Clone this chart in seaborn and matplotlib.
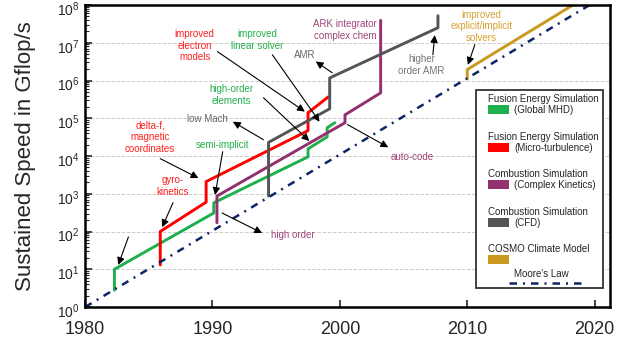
import numpy as np
import pandas as pd
import matplotlib
matplotlib.use("Agg")
import matplotlib.pyplot as plt
import matplotlib.transforms as mtransforms
from matplotlib.patches import Rectangle
from matplotlib.ticker import LogLocator, FixedLocator
import seaborn as sns

# ------------------------------------------------------------
# data
# ------------------------------------------------------------
mhd_years = [1982.3, 1982.3, 1990.1, 1990.1, 1997.5, 1997.5, 1999.0, 1999.0, 1999.6]
mhd_speed = [2.8, 10, 310, 575, 9500, 15500, 32000, 56000, 76000]

turb_years = [1985.9, 1985.9, 1989.5, 1989.5, 1997.5, 1997.5, 1999.1]
turb_speed = [13, 100, 600, 2100, 47000, 140000, 370000]

kin_years = [1990.35, 1990.35, 2000.4, 2000.4, 2003.2, 2003.2]
kin_speed = [170, 870, 76000, 123000, 470000, 3.9e7]

cfd_years = [1994.4, 1994.4, 1999.2, 1999.2, 2007.7, 2007.7]
cfd_speed = [870, 23000, 178000, 1.17e6, 2.5e7, 5.2e7]

cosmo_years = [2010.0, 2010.0, 2018.3]
cosmo_speed = [1.1e6, 1.95e6, 1e8]

moore_years = [1980, 2020]
moore_speed = [1, 1.2e8]

series_names = ["Global MHD", "Micro-turbulence", "Complex Kinetics", "CFD", "COSMO"]
series_colors = ["#1db04c", "#ff0000", "#93306e", "#555555", "#c99a1e"]
moore_color = "#0d2467"

x_ticks = [1980, 1990, 2000, 2010, 2020]
y_ticks = [10.0 ** k for k in range(9)]
y_tick_labels = [f"$10^{{{k}}}$" for k in range(9)]

# (group title, sub label) for the hand-made legend
legend_rows = [
    ("Fusion Energy Simulation", "(Global MHD)"),
    ("Fusion Energy Simulation", "(Micro-turbulence)"),
    ("Combustion Simulation", "(Complex Kinetics)"),
    ("Combustion Simulation", "(CFD)"),
    ("COSMO Climate Model", ""),
]

# annotations: text, text position, arrow tail, arrow head, colour
notes = [
    ("improved\nelectron\nmodels", (1988.6, 8.3e6), (1990.4, 5.8e6), (1997.25, 1.5e5), "#ff2020"),
    ("improved\nlinear solver", (1993.5, 1.2e7), (1994.7, 4.8e6), (1998.4, 8.1e4), "#22b04c"),
    ("AMR", (1997.25, 4.8e6), (1999.4, 1.6e6), (1998.1, 3.2e6), "#666666"),
    ("ARK integrator\ncomplex chem", (2000.4, 2.2e7), None, None, "#a0457a"),
    ("higher\norder AMR", (2006.4, 2.6e6), (2007.3, 4.8e6), (2007.45, 1.6e7), "#777777"),
    ("improved\nexplicit/implicit\nsolvers", (2011.1, 2.7e7), (2010.6, 8.9e6), (2010.05, 2.6e6), "#d4a030"),
    ("high-order\nelements", (1991.5, 4.2e5), (1994.0, 3.5e5), (1997.6, 2.5e4), "#22b04c"),
    ("low Mach", (1989.6, 9.8e4), (1994.0, 2.7e4), (1991.6, 8.1e4), "#666666"),
    ("delta-f,\nmagnetic\ncoordinates", (1985.1, 3.2e4), (1985.9, 8.5e3), (1988.9, 2.6e3), "#ff2020"),
    ("semi-implicit", (1990.8, 2.0e4), (1990.8, 1.3e4), (1990.2, 9.3e2), "#22b04c"),
    ("gyro-\nkinetics", (1986.9, 1.6e3), (1986.9, 5.8e2), (1986.05, 1.3e2), "#ff2020"),
    ("", None, (1983.4, 72), (1982.6, 13), "black"),
    ("high order", (1996.3, 81), (1990.75, 310), (1993.9, 91), "#a0457a"),
    ("auto-code", (2005.7, 9.5e3), (2000.6, 6.8e4), (2003.8, 1.7e4), "#a0457a"),
]

# ------------------------------------------------------------
# plot
# ------------------------------------------------------------
sns.set_style("ticks")
plt.rcParams['font.family'] = ['Liberation Sans', 'DejaVu Sans']
plt.rcParams['mathtext.default'] = 'regular'

fig = plt.figure(figsize=(6.4, 3.57), dpi=100)
ax = fig.add_axes([0.133, 0.140, 0.820, 0.846])

all_years = [mhd_years, turb_years, kin_years, cfd_years, cosmo_years]
all_speed = [mhd_speed, turb_speed, kin_speed, cfd_speed, cosmo_speed]
for name, yrs, spd, col in zip(series_names, all_years, all_speed, series_colors):
    df = pd.DataFrame({"year": yrs, "speed": spd})
    sns.lineplot(data=df, x="year", y="speed", sort=False, estimator=None,
                 color=col, lw=2.1, ax=ax)

moore_df = pd.DataFrame({"year": moore_years, "speed": moore_speed})
sns.lineplot(data=moore_df, x="year", y="speed", sort=False, estimator=None,
             color=moore_color, lw=1.8, ax=ax)
ax.lines[-1].set_linestyle((0, (3.0, 2.4, 0.8, 2.4)))

ax.set_yscale("log")
ax.set_xlim(1980, 2021.2)
ax.set_ylim(1, 1e8)
ax.set_xlabel("")
ax.set_ylabel("Sustained Speed in Gflop/s", fontsize=16, labelpad=15)

ax.xaxis.set_major_locator(FixedLocator(x_ticks))
ax.set_xticklabels([str(t) for t in x_ticks], fontsize=13)
ax.yaxis.set_major_locator(FixedLocator(y_ticks))
ax.set_yticklabels(y_tick_labels, fontsize=10)
ax.yaxis.set_minor_locator(LogLocator(base=10, subs=np.arange(2, 10), numticks=20))
ax.tick_params(axis="both", which="major", direction="in", length=5, width=1.2, pad=4)
ax.tick_params(axis="y", which="minor", direction="in", length=3, width=0.8)
ax.tick_params(axis="x", which="major", pad=10)

# y tick labels sit a little below their ticks in the original
shift = mtransforms.ScaledTranslation(0, -3 / 100, fig.dpi_scale_trans)
for lab in ax.get_yticklabels():
    lab.set_transform(lab.get_transform() + shift)

for sp in ax.spines.values():
    sp.set_linewidth(1.8)
    sp.set_color("black")

ax.grid(axis="y", which="major", color="#cccccc", ls="--", lw=0.7)
ax.set_axisbelow(True)

# annotations
for txt, tpos, tail, head, col in notes:
    if txt:
        ax.text(tpos[0], tpos[1], txt, color=col, fontsize=7, ha="center",
                va="center", linespacing=1.2)
    if tail is not None:
        ax.annotate("", xy=head, xytext=tail,
                    arrowprops=dict(arrowstyle="-|>", color="black", lw=0.8,
                                    mutation_scale=11, shrinkA=0, shrinkB=0))

# hand-made legend box (axes fraction coordinates)
ax.add_patch(Rectangle((0.745, 0.063), 0.242, 0.656, transform=ax.transAxes,
                       facecolor="white", edgecolor="#333333", lw=1.3, zorder=5))
step = 0.1245
for i, (title, sub) in enumerate(legend_rows):
    ty = 0.689 - i * step
    ax.text(0.768, ty, title, transform=ax.transAxes, fontsize=7,
            va="center", ha="left", zorder=6)
    ax.add_patch(Rectangle((0.768, ty - 0.05), 0.040, 0.030, transform=ax.transAxes,
                           facecolor=series_colors[i], edgecolor="none", zorder=6))
    if sub:
        ax.text(0.817, ty - 0.037, sub, transform=ax.transAxes, fontsize=7,
                va="center", ha="left", zorder=6)
ax.text(0.870, 0.109, "Moore's Law", transform=ax.transAxes, fontsize=7,
        va="center", ha="center", zorder=6)
ax.plot([0.808, 0.947], [0.079, 0.079], transform=ax.transAxes, color=moore_color,
        lw=1.8, ls=(0, (3.0, 2.4, 0.8, 2.4)), zorder=6)

fig.savefig("out.png", dpi=100)
